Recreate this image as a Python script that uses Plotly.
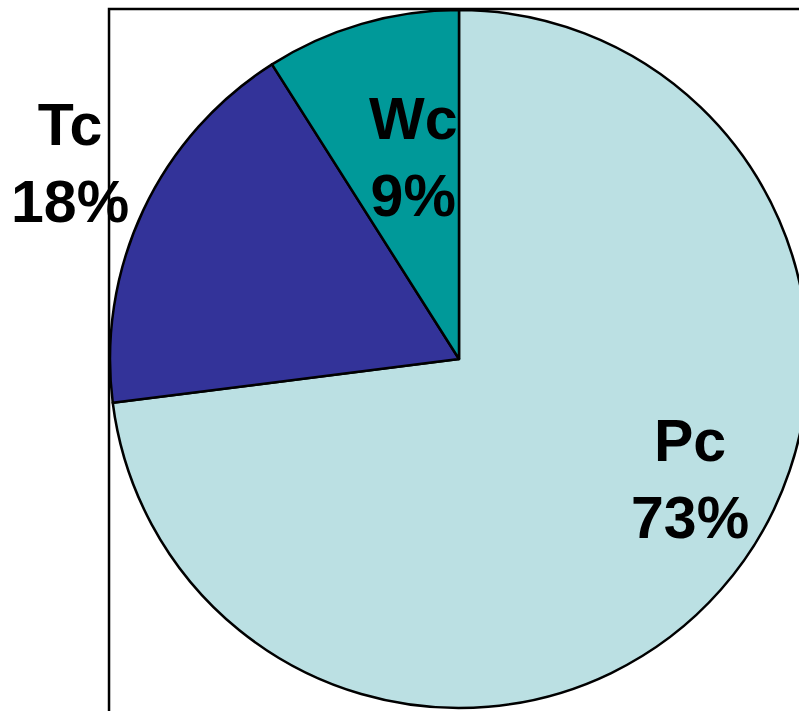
import plotly.graph_objects as go

labels = ["Pc", "Tc", "Wc"]
values = [73, 18, 9]
colors = ["#BBE0E3", "#333399", "#009999"]

# label anchor positions (paper coordinates)
label_x = [0.831, -0.057, 0.4355]
label_y = [0.327, 0.780, 0.788]

total = sum(values)
fig = go.Figure()
fig.add_trace(go.Pie(
    labels=labels, values=values, sort=False, direction="clockwise", rotation=0,
    marker=dict(colors=colors, line=dict(color="black", width=2.5)),
    textinfo="none", hoverinfo="label+percent", showlegend=False,
))

for lab, v, x, y in zip(labels, values, label_x, label_y):
    fig.add_annotation(
        x=x, y=y, xref="paper", yref="paper", showarrow=False,
        text=f"<b>{lab}<br>{round(100*v/total)}%</b>",
        font=dict(family="Liberation Sans, Arial", size=59, color="black"),
        align="center", xanchor="center", yanchor="middle",
    )

fig.add_shape(type="rect", xref="paper", yref="paper",
              x0=-0.0014, x1=1.2, y0=-0.2, y1=1.0014,
              line=dict(color="black", width=2.5), fillcolor="rgba(0,0,0,0)", layer="below")

fig.update_layout(
    width=808, height=711,
    margin=dict(l=110, r=0, t=10, b=3),
    paper_bgcolor="white", plot_bgcolor="white",
)
fig.write_html("out.html", post_script="document.body.style.overflow='hidden';document.body.style.margin='0';")
